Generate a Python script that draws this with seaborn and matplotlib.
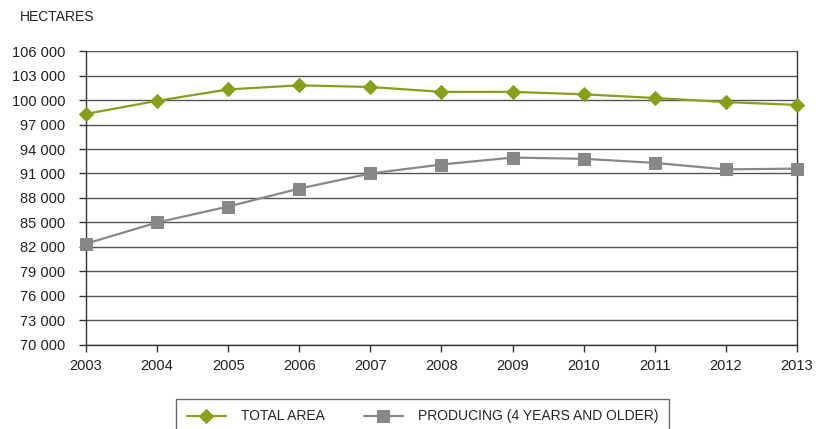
import pandas as pd
import matplotlib.pyplot as plt
import seaborn as sns
from matplotlib.ticker import FuncFormatter

years = [2003, 2004, 2005, 2006, 2007, 2008, 2009, 2010, 2011, 2012, 2013]
total_area = [98300, 99900, 101300, 101800, 101600, 101000, 101000, 100700, 100250, 99750, 99400]
producing = [82400, 85000, 86950, 89150, 91000, 92100, 92950, 92800, 92300, 91500, 91600]
y_ticks = list(range(70000, 106001, 3000))

green = "#86A01A"
grey = "#888888"

sns.set_theme(style="white")
plt.rcParams["font.family"] = ["Liberation Sans", "DejaVu Sans"]
plt.rcParams["font.size"] = 10.5

df = pd.DataFrame({"year": years, "total": total_area, "producing": producing})

fig = plt.figure(figsize=(8.19, 4.29), dpi=100)
ax = fig.add_axes([0.105, 0.196, 0.868, 0.685])

sns.lineplot(data=df, x="year", y="total", ax=ax, color=green, marker="D",
             markersize=7, markeredgecolor=green, linewidth=1.6, label="TOTAL AREA",
             clip_on=False, zorder=4)
sns.lineplot(data=df, x="year", y="producing", ax=ax, color=grey, marker="s",
             markersize=9, markeredgecolor=grey, linewidth=1.6,
             label="PRODUCING (4 YEARS AND OLDER)", clip_on=False, zorder=3)

ax.set_xlim(2003, 2013)
ax.set_ylim(70000, 106000)
ax.set_xticks(years)
ax.set_yticks(y_ticks)
ax.yaxis.set_major_formatter(FuncFormatter(lambda v, p: f"{int(v):,}".replace(",", " ")))
ax.grid(axis="y", color="#555555", linewidth=1)
ax.set_axisbelow(True)
for s in ["left", "bottom", "right"]:
    ax.spines[s].set_color("#333333")
    ax.spines[s].set_linewidth(1)
ax.spines["top"].set_visible(False)
ax.tick_params(axis="both", length=5, width=1, color="#333333", labelsize=10.5,
               labelcolor="#222222", left=True, bottom=True)
ax.tick_params(axis="y", pad=10)
ax.tick_params(axis="x", pad=5)
ax.set_xlabel("")
ax.set_ylabel("")
ax.legend_.remove()

fig.text(0.024, 0.96, "HECTARES", fontsize=10, color="#222222", va="center")

handles, labels = ax.get_legend_handles_labels()
leg = fig.legend(handles, labels, loc="upper center", bbox_to_anchor=(0.516, 0.086),
                 ncol=2, frameon=True, fancybox=False, handlelength=2.8,
                 columnspacing=2.8, handletextpad=1.1, borderpad=0.75, fontsize=10)
leg.get_frame().set_edgecolor("#444444")
leg.get_frame().set_linewidth(1)

fig.savefig("out.png", dpi=100)
